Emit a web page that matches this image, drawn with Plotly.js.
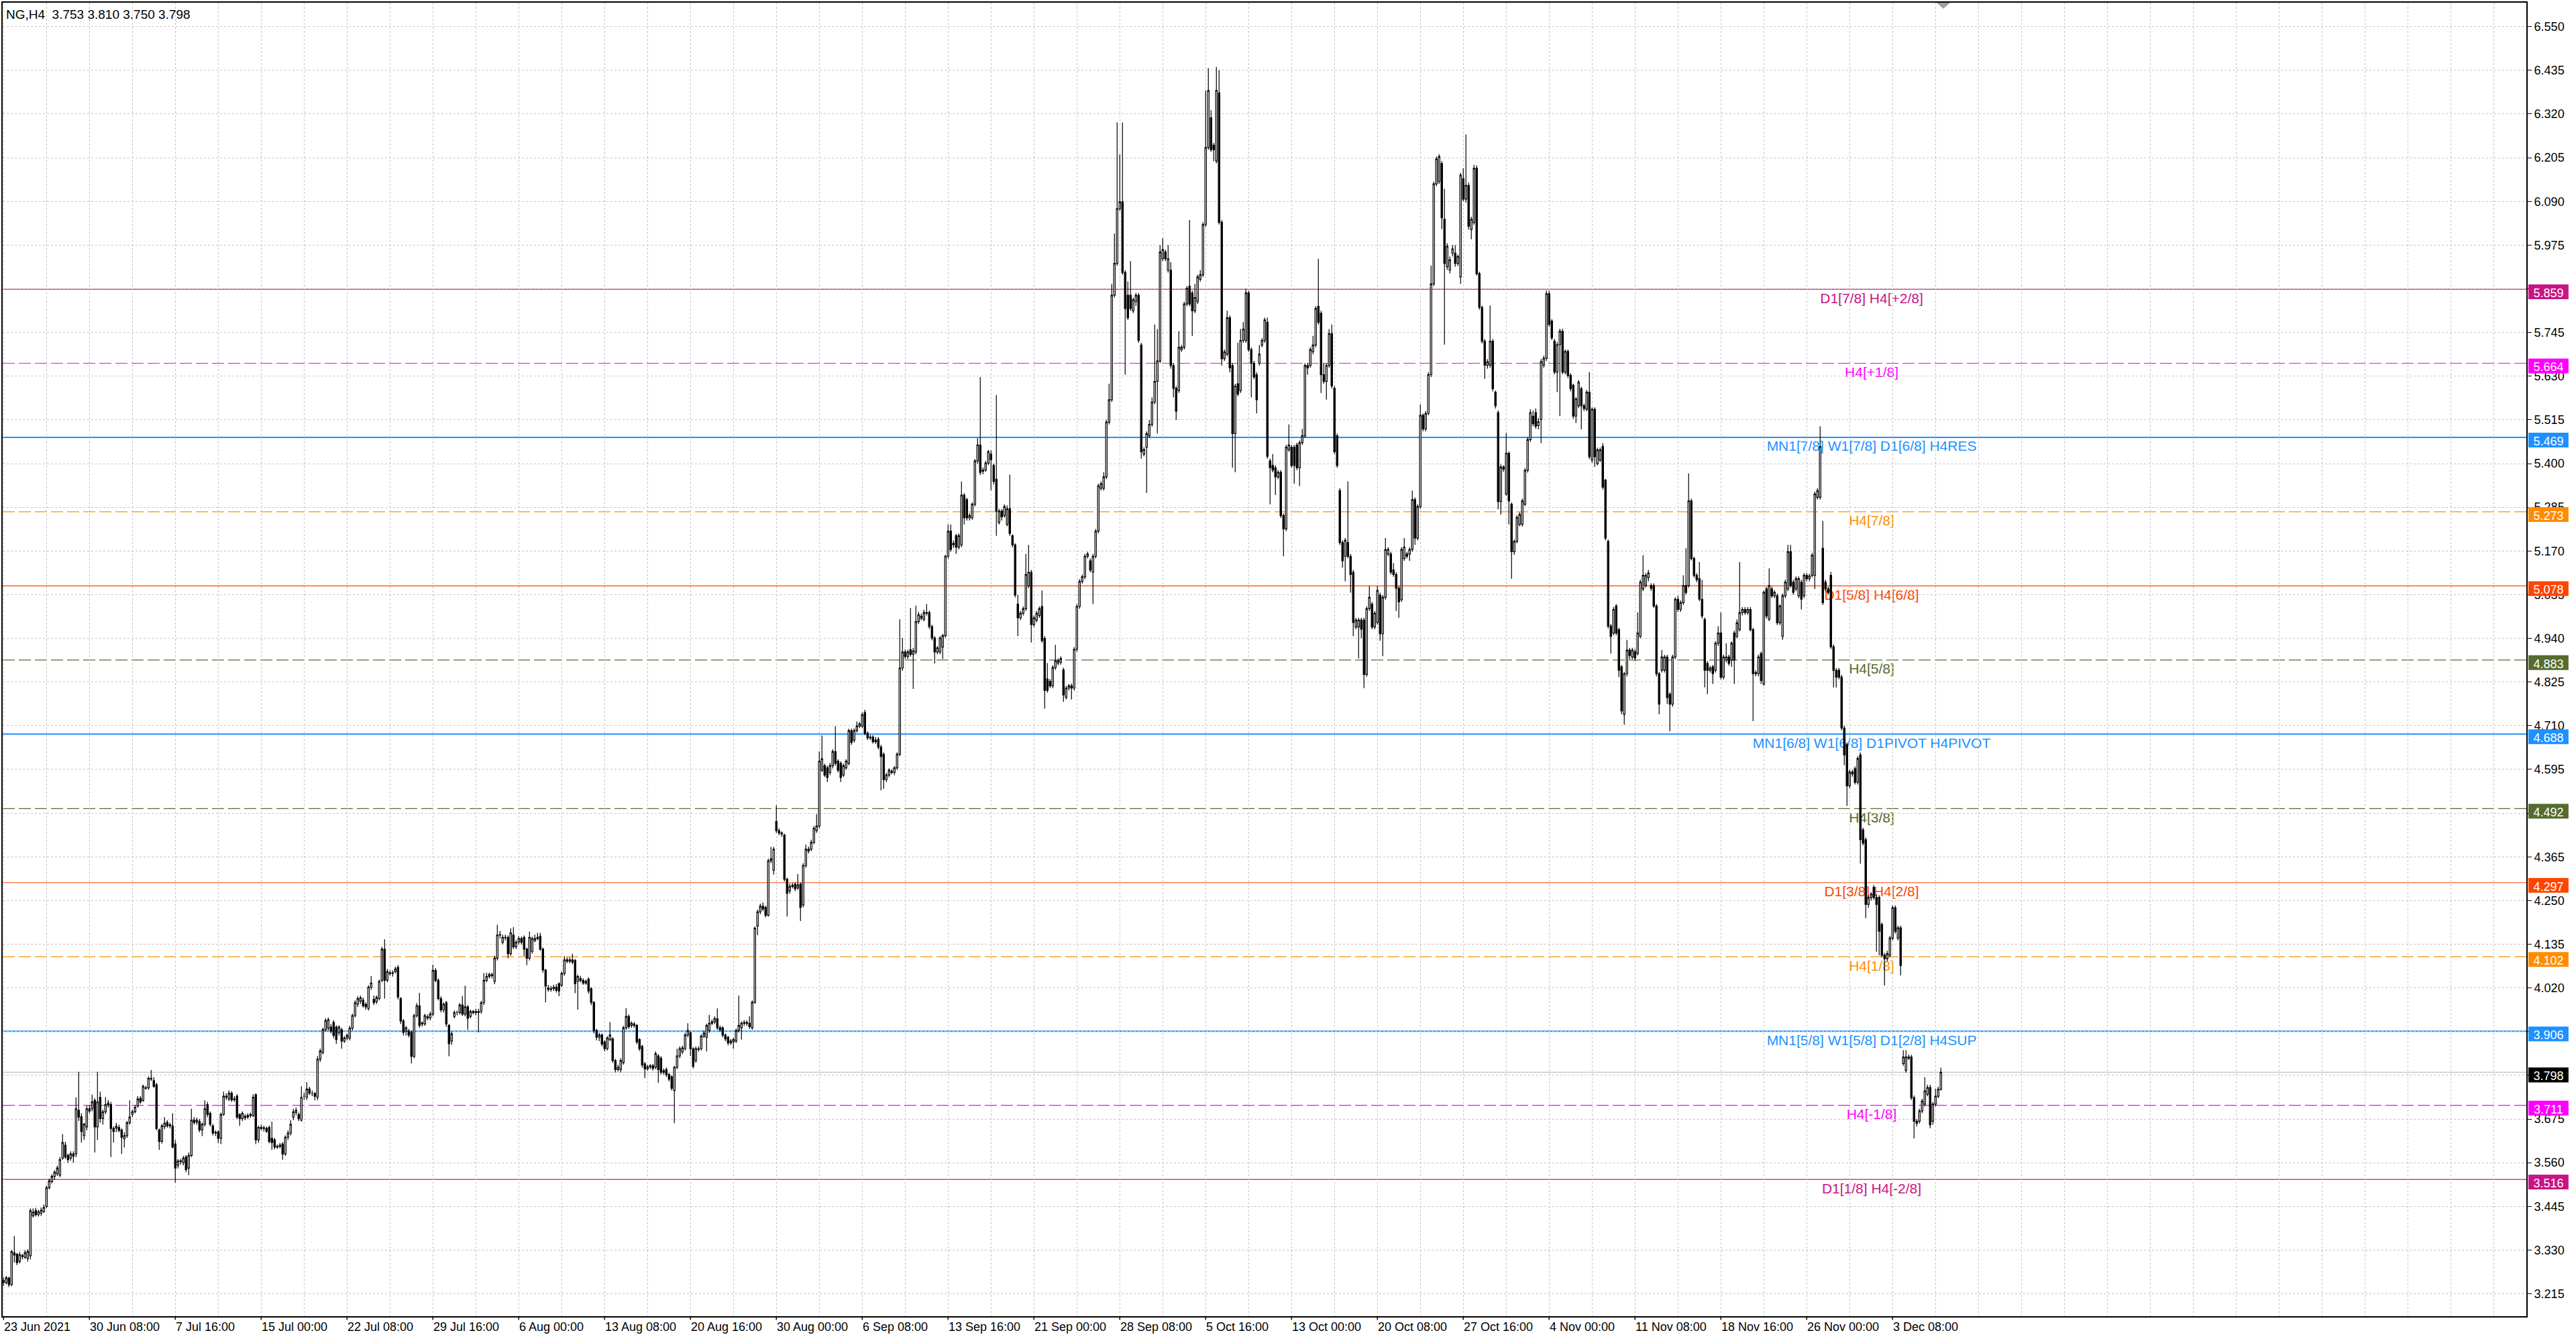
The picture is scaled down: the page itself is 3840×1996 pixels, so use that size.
<!DOCTYPE html>
<html>
<head>
<meta charset="utf-8">
<title>NG,H4</title>
<script src="https://cdn.plot.ly/plotly-3.0.1.min.js"></script>
<style>
html, body { margin: 0; padding: 0; background: #fff; }
#chart { width: 3840px; height: 1996px; }
</style>
</head>
<body>
<div id="chart"></div>
<script>
// NG, H4 bars (23 Jun 2021 -> 8 Dec 2021)
const symbol = 'NG,H4';

const openP = [
3.245,3.244,3.256,3.239,3.323,3.319,3.300,3.316,3.311,3.308,
3.315,3.420,3.434,3.423,3.427,3.431,3.445,3.494,3.510,3.524,
3.531,3.527,3.572,3.606,3.579,3.572,3.583,3.583,3.698,3.681,
3.631,3.654,3.702,3.702,3.724,3.654,3.732,3.676,3.694,3.713,
3.713,3.650,3.651,3.653,3.646,3.623,3.631,3.665,3.687,3.694,
3.709,3.729,3.724,3.757,3.757,3.782,3.776,3.765,3.646,3.616,
3.655,3.666,3.660,3.657,3.609,3.553,3.565,3.560,3.575,3.546,
3.579,3.672,3.667,3.669,3.646,3.661,3.713,3.690,3.657,3.640,
3.641,3.624,3.687,3.735,3.728,3.743,3.726,3.735,3.687,3.676,
3.682,3.680,3.684,3.684,3.739,3.620,3.653,3.650,3.650,3.653,
3.624,3.620,3.601,3.603,3.609,3.583,3.627,3.638,3.680,3.692,
3.687,3.672,3.735,3.732,3.754,3.743,3.742,3.732,3.832,3.850,
3.910,3.914,3.917,3.929,3.917,3.902,3.910,3.880,3.888,3.888,
3.914,3.947,3.977,3.985,3.988,3.977,3.966,4.022,3.990,3.984,
3.992,4.040,4.122,4.040,4.058,4.060,4.063,4.074,3.992,3.933,
3.906,3.906,3.903,3.840,3.947,3.973,3.928,3.925,3.944,3.941,
3.951,4.066,4.040,3.992,3.962,3.981,3.921,3.880,3.945,3.955,
3.955,3.975,3.951,3.970,3.945,3.958,3.955,3.958,3.958,3.981,
4.040,4.050,4.055,4.037,4.098,4.159,4.140,4.153,4.153,4.110,
4.159,4.128,4.141,4.150,4.153,4.122,4.098,4.116,4.145,4.150,
4.156,4.122,4.067,4.020,4.016,4.018,4.022,4.031,4.027,4.058,
4.094,4.090,4.094,4.092,4.037,4.045,4.040,4.033,4.043,4.018,
3.982,3.908,3.890,3.896,3.878,3.860,3.884,3.886,3.829,3.805,
3.805,3.823,3.915,3.945,3.921,3.925,3.921,3.884,3.866,3.820,
3.807,3.812,3.815,3.811,3.841,3.835,3.798,3.805,3.792,3.786,
3.750,3.811,3.841,3.852,3.860,3.896,3.902,3.860,3.829,3.860,
3.860,3.893,3.890,3.908,3.927,3.931,3.939,3.915,3.915,3.896,
3.890,3.875,3.878,3.880,3.908,3.915,3.927,3.929,3.927,3.915,
3.982,4.183,4.220,4.235,4.232,4.211,4.354,4.330,4.458,4.434,
4.428,4.422,4.306,4.275,4.287,4.293,4.283,4.293,4.238,4.342,
4.385,4.385,4.403,4.434,4.446,4.593,4.605,4.599,4.587,4.605,
4.642,4.617,4.611,4.580,4.599,4.611,4.697,4.672,4.697,4.709,
4.709,4.745,4.690,4.678,4.680,4.668,4.674,4.654,4.635,4.568,
4.580,4.590,4.587,4.599,4.635,4.862,4.904,4.892,4.910,4.898,
4.904,4.984,4.993,4.990,5.008,5.008,4.971,4.941,4.904,4.904,
4.917,4.947,5.156,5.222,5.186,5.210,5.180,5.186,5.317,5.305,
5.257,5.257,5.293,5.407,5.449,5.380,5.383,5.401,5.425,5.395,
5.359,5.245,5.275,5.263,5.240,5.281,5.210,5.186,5.030,4.994,
5.006,5.018,5.078,5.114,4.976,4.988,5.000,5.024,4.940,4.833,
4.827,4.815,4.863,4.875,4.877,4.857,4.785,4.809,4.815,4.809,
4.911,5.024,5.090,5.102,5.156,5.144,5.114,5.156,5.222,5.335,
5.335,5.365,5.509,5.568,5.843,5.927,6.071,6.089,5.903,5.843,
5.843,5.802,5.826,5.843,5.712,5.425,5.443,5.473,5.503,5.562,
5.616,5.670,5.939,5.957,5.909,5.909,5.658,5.598,5.592,5.700,
5.706,5.820,5.867,5.849,5.802,5.826,5.885,5.897,6.029,6.232,
6.310,6.238,6.196,6.376,6.035,5.676,5.688,5.784,5.658,5.479,
5.610,5.592,5.724,5.724,5.849,5.700,5.664,5.634,5.664,5.712,
5.724,5.772,5.407,5.395,5.389,5.365,5.377,5.263,5.228,5.437,
5.443,5.443,5.449,5.389,5.455,5.473,5.658,5.658,5.694,5.712,
5.814,5.796,5.634,5.616,5.658,5.742,5.598,5.473,5.329,5.192,
5.156,5.192,5.156,5.114,4.970,4.970,4.988,4.988,4.845,5.018,
5.030,4.970,4.982,5.054,4.952,5.048,5.162,5.162,5.120,5.108,
5.072,5.042,5.150,5.162,5.162,5.174,5.305,5.204,5.287,5.527,
5.491,5.532,5.634,5.873,6.136,6.142,6.190,6.043,5.918,5.909,
5.954,5.954,5.927,5.891,6.150,6.096,6.132,6.016,6.034,6.177,
5.900,5.811,5.722,5.659,5.659,5.722,5.588,5.534,5.300,5.391,
5.320,5.427,5.293,5.168,5.195,5.240,5.240,5.293,5.382,5.463,
5.525,5.534,5.500,5.516,5.659,5.677,5.847,5.775,5.722,5.641,
5.713,5.748,5.641,5.695,5.632,5.606,5.525,5.552,5.597,5.552,
5.543,5.588,5.409,5.543,5.400,5.409,5.445,5.356,5.195,4.972,
4.954,5.025,4.963,4.865,4.740,4.847,4.909,4.891,4.905,4.900,
4.945,5.070,5.079,5.100,5.079,5.079,5.025,4.847,4.856,4.856,
4.891,4.793,4.767,4.891,5.043,5.016,5.034,5.079,5.079,5.302,
5.150,5.106,5.097,5.043,4.990,4.874,4.856,4.865,4.856,4.927,
4.954,4.838,4.883,4.891,4.883,4.954,4.945,4.963,5.008,5.016,
5.008,5.016,4.963,4.847,4.847,4.900,4.820,5.070,4.990,5.070,
5.052,5.052,4.981,4.945,5.052,5.070,5.168,5.088,5.070,5.052,
5.088,5.052,5.106,5.097,5.106,5.106,5.311,5.311,5.177,5.088,
5.070,5.106,4.918,4.856,4.856,4.838,4.704,4.660,4.552,4.588,
4.597,4.561,4.633,4.436,4.410,4.240,4.258,4.285,4.258,4.258,
4.187,4.106,4.097,4.106,4.151,4.231,4.151,4.178,3.821,3.803,
3.838,3.838,3.731,3.669,3.669,3.696,3.714,3.740,3.758,3.669,
3.714,3.735,3.753
];

const highP = [
3.258,3.262,3.260,3.330,3.367,3.322,3.325,3.320,3.330,3.332,
3.440,3.440,3.441,3.436,3.442,3.450,3.500,3.518,3.530,3.540,
3.552,3.575,3.635,3.615,3.584,3.590,3.590,3.732,3.799,3.690,
3.665,3.710,3.712,3.739,3.730,3.799,3.747,3.700,3.732,3.725,
3.720,3.655,3.665,3.660,3.650,3.640,3.670,3.724,3.700,3.712,
3.735,3.735,3.765,3.762,3.787,3.804,3.785,3.770,3.650,3.662,
3.680,3.672,3.665,3.690,3.620,3.570,3.570,3.578,3.580,3.587,
3.702,3.680,3.678,3.675,3.666,3.724,3.720,3.695,3.662,3.645,
3.645,3.692,3.747,3.742,3.750,3.748,3.735,3.740,3.690,3.695,
3.688,3.690,3.692,3.740,3.742,3.658,3.660,3.657,3.655,3.658,
3.668,3.625,3.608,3.612,3.614,3.632,3.645,3.672,3.702,3.705,
3.692,3.761,3.745,3.772,3.760,3.750,3.746,3.840,3.860,3.915,
3.940,3.942,3.925,3.935,3.922,3.922,3.915,3.893,3.900,3.920,
3.952,3.987,3.998,4.000,3.995,3.982,4.027,4.051,4.000,4.000,
4.042,4.128,4.148,4.070,4.066,4.066,4.076,4.080,3.996,3.938,
3.920,3.912,3.908,3.952,3.980,4.007,3.932,3.952,3.950,3.957,
4.081,4.072,4.045,3.998,3.982,3.986,3.925,3.905,3.960,3.960,
3.980,3.999,4.026,3.975,3.963,3.962,3.965,3.965,3.986,4.059,
4.060,4.060,4.060,4.104,4.186,4.170,4.160,4.160,4.158,4.177,
4.180,4.146,4.156,4.155,4.158,4.126,4.168,4.155,4.160,4.165,
4.165,4.126,4.070,4.028,4.025,4.028,4.030,4.035,4.063,4.104,
4.100,4.100,4.110,4.096,4.055,4.052,4.045,4.042,4.048,4.022,
3.985,3.912,3.902,3.900,3.882,3.893,3.930,3.890,3.833,3.818,
3.835,3.920,3.967,3.950,3.932,3.930,3.925,3.888,3.870,3.825,
3.818,3.820,3.820,3.853,3.846,3.840,3.808,3.810,3.796,3.790,
3.815,3.860,3.866,3.868,3.902,3.927,3.906,3.864,3.866,3.866,
3.898,3.908,3.926,3.949,3.937,3.945,3.966,3.921,3.919,3.900,
3.894,3.885,3.889,3.913,4.000,3.932,3.935,3.935,3.945,3.987,
4.182,4.226,4.242,4.245,4.236,4.360,4.391,4.391,4.501,4.440,
4.432,4.426,4.310,4.295,4.296,4.298,4.320,4.298,4.348,4.397,
4.392,4.410,4.446,4.477,4.642,4.684,4.610,4.605,4.612,4.648,
4.709,4.622,4.616,4.610,4.622,4.702,4.702,4.703,4.721,4.720,
4.745,4.752,4.695,4.686,4.685,4.680,4.680,4.660,4.640,4.586,
4.598,4.596,4.604,4.640,4.990,4.941,4.910,4.910,5.020,4.915,
5.026,5.010,5.005,5.015,5.030,5.013,4.976,4.946,4.920,4.946,
4.952,5.160,5.240,5.240,5.198,5.215,5.216,5.353,5.322,5.310,
5.270,5.298,5.412,5.467,5.628,5.390,5.407,5.436,5.435,5.400,
5.580,5.281,5.280,5.293,5.290,5.371,5.214,5.190,5.054,5.012,
5.024,5.162,5.186,5.120,5.000,5.012,5.024,5.066,4.946,4.875,
4.833,4.869,4.923,4.887,4.893,4.863,4.815,4.820,4.821,4.917,
5.030,5.096,5.108,5.162,5.168,5.150,5.162,5.228,5.347,5.353,
5.377,5.515,5.610,5.873,6.005,6.298,6.214,6.298,5.909,5.879,
5.933,5.837,5.849,5.849,5.718,5.443,5.485,5.515,5.574,5.766,
5.754,5.975,5.993,5.963,5.975,5.930,5.664,5.604,5.748,5.712,
5.826,5.867,6.041,5.855,5.873,5.897,5.909,6.035,6.382,6.441,
6.330,6.244,6.444,6.435,6.041,5.700,5.802,5.790,5.664,5.610,
5.718,5.754,5.772,5.860,5.855,5.706,5.670,5.640,5.712,5.730,
5.784,5.784,5.413,5.425,5.395,5.383,5.383,5.269,5.449,5.503,
5.449,5.449,5.455,5.461,5.491,5.664,5.664,5.706,5.736,5.814,
5.939,5.802,5.664,5.664,5.754,5.766,5.604,5.479,5.335,5.198,
5.204,5.353,5.162,5.120,4.994,4.994,4.994,4.994,5.024,5.078,
5.036,5.012,5.078,5.060,5.054,5.204,5.180,5.168,5.138,5.114,
5.078,5.180,5.204,5.168,5.180,5.329,5.311,5.293,5.556,5.532,
5.538,5.640,5.921,6.142,6.208,6.214,6.196,6.123,5.980,5.945,
5.975,5.975,5.950,6.165,6.177,6.266,6.140,6.050,6.186,6.185,
5.905,5.816,5.728,5.675,5.816,5.728,5.592,5.540,5.398,5.395,
5.481,5.432,5.298,5.200,5.264,5.272,5.308,5.388,5.470,5.543,
5.540,5.545,5.520,5.675,5.684,5.855,5.855,5.780,5.728,5.720,
5.755,5.755,5.700,5.700,5.638,5.610,5.575,5.620,5.602,5.558,
5.594,5.641,5.548,5.548,5.442,5.442,5.454,5.360,5.200,4.978,
5.022,5.030,4.968,4.870,4.852,4.936,4.915,4.915,4.912,5.008,
5.094,5.159,5.112,5.120,5.085,5.085,5.030,4.852,4.909,4.897,
4.897,4.798,4.897,5.048,5.052,5.040,5.106,5.177,5.374,5.308,
5.155,5.112,5.141,5.094,4.995,4.880,4.868,4.870,4.932,4.972,
5.008,4.897,4.927,4.897,4.932,4.960,4.990,5.141,5.022,5.022,
5.022,5.022,4.968,4.856,4.897,4.905,5.066,5.075,5.124,5.076,
5.067,5.058,5.030,5.058,5.094,5.186,5.186,5.094,5.103,5.103,
5.094,5.112,5.112,5.110,5.165,5.326,5.335,5.498,5.249,5.094,
5.076,5.115,4.924,4.862,4.862,4.844,4.710,4.666,4.594,4.594,
4.603,4.630,4.640,4.442,4.416,4.264,4.272,4.291,4.267,4.264,
4.192,4.112,4.118,4.157,4.237,4.237,4.184,4.184,3.856,3.856,
3.845,3.844,3.737,3.675,3.702,3.728,3.785,3.765,3.765,3.720,
3.755,3.760,3.810
];

const lowP = [
3.236,3.240,3.233,3.235,3.297,3.290,3.295,3.305,3.307,3.300,
3.305,3.415,3.418,3.418,3.420,3.428,3.440,3.490,3.505,3.515,
3.525,3.522,3.568,3.570,3.560,3.565,3.560,3.575,3.670,3.613,
3.620,3.645,3.690,3.695,3.587,3.620,3.665,3.660,3.688,3.705,
3.575,3.613,3.640,3.640,3.583,3.600,3.625,3.660,3.680,3.690,
3.705,3.715,3.720,3.752,3.752,3.775,3.757,3.645,3.594,3.610,
3.648,3.652,3.650,3.598,3.508,3.545,3.555,3.553,3.535,3.527,
3.575,3.660,3.660,3.640,3.630,3.655,3.680,3.655,3.632,3.630,
3.612,3.609,3.683,3.725,3.722,3.720,3.720,3.675,3.657,3.670,
3.672,3.675,3.678,3.680,3.609,3.612,3.645,3.642,3.638,3.611,
3.594,3.595,3.596,3.598,3.568,3.578,3.620,3.632,3.672,3.685,
3.670,3.668,3.725,3.725,3.738,3.735,3.724,3.724,3.825,3.845,
3.905,3.908,3.900,3.888,3.873,3.895,3.860,3.875,3.882,3.882,
3.908,3.942,3.970,3.978,3.968,3.963,3.960,4.015,3.975,3.978,
3.987,4.035,3.992,4.035,4.052,4.050,4.058,3.990,3.925,3.895,
3.895,3.890,3.821,3.835,3.942,3.915,3.918,3.920,3.935,3.935,
3.945,4.035,3.987,3.956,3.955,3.918,3.840,3.870,3.940,3.948,
3.950,3.946,3.945,3.910,3.940,3.950,3.948,3.903,3.952,3.975,
4.035,4.045,4.045,4.030,4.092,4.150,4.135,4.145,4.098,4.105,
4.122,4.122,4.135,4.134,4.104,4.080,4.092,4.110,4.140,4.145,
4.118,4.060,3.982,4.010,4.010,4.012,4.008,3.998,4.022,4.052,
4.085,4.085,4.082,4.006,3.963,4.035,4.028,4.028,4.005,3.975,
3.900,3.882,3.880,3.866,3.853,3.855,3.880,3.823,3.798,3.800,
3.798,3.818,3.910,3.912,3.915,3.915,3.872,3.854,3.810,3.783,
3.802,3.806,3.802,3.806,3.770,3.792,3.792,3.786,3.774,3.750,
3.664,3.806,3.835,3.846,3.855,3.890,3.841,3.808,3.823,3.852,
3.855,3.888,3.853,3.902,3.922,3.925,3.910,3.904,3.890,3.880,
3.869,3.870,3.860,3.875,3.903,3.884,3.920,3.920,3.912,3.910,
3.978,4.159,4.214,4.222,4.205,4.208,4.348,4.318,4.428,4.422,
4.418,4.300,4.208,4.268,4.282,4.275,4.278,4.196,4.232,4.336,
4.374,4.380,4.398,4.428,4.440,4.588,4.575,4.562,4.580,4.598,
4.605,4.587,4.562,4.575,4.594,4.606,4.660,4.666,4.692,4.704,
4.704,4.685,4.672,4.672,4.663,4.662,4.648,4.540,4.544,4.562,
4.574,4.582,4.580,4.594,4.630,4.855,4.886,4.886,4.892,4.807,
4.898,4.978,4.988,4.985,5.000,4.965,4.935,4.874,4.898,4.898,
4.886,4.942,5.150,5.168,5.178,5.162,5.174,5.180,5.240,5.250,
5.250,5.252,5.287,5.400,5.370,5.372,5.378,5.396,5.330,5.345,
5.210,5.240,5.250,5.258,5.235,5.210,5.180,5.048,4.946,4.988,
5.000,5.012,5.072,4.929,4.970,4.982,4.994,4.928,4.755,4.797,
4.809,4.809,4.857,4.869,4.871,4.773,4.779,4.803,4.779,4.803,
4.905,5.018,5.084,5.096,5.150,5.114,5.030,5.150,5.216,5.329,
5.329,5.359,5.503,5.562,5.837,5.921,6.065,5.897,5.634,5.778,
5.802,5.796,5.815,5.718,5.413,5.419,5.323,5.467,5.497,5.556,
5.479,5.664,5.933,5.933,5.903,5.650,5.574,5.515,5.586,5.694,
5.700,5.814,5.814,5.736,5.796,5.820,5.879,5.891,6.023,6.226,
6.220,6.196,6.190,6.029,5.658,5.670,5.682,5.640,5.389,5.377,
5.577,5.586,5.718,5.718,5.694,5.574,5.622,5.532,5.658,5.706,
5.718,5.413,5.293,5.377,5.317,5.359,5.257,5.156,5.222,5.431,
5.389,5.347,5.383,5.341,5.449,5.467,5.634,5.652,5.688,5.706,
5.766,5.586,5.610,5.568,5.652,5.598,5.425,5.389,5.186,5.126,
5.090,5.150,5.060,4.946,4.964,4.887,4.940,4.809,4.839,5.012,
4.964,4.964,4.976,4.934,4.893,5.042,5.156,5.108,5.102,5.012,
4.994,5.036,5.144,5.150,5.144,5.168,5.186,5.198,5.281,5.485,
5.485,5.527,5.628,5.867,6.130,6.136,6.017,5.713,5.910,5.900,
5.945,5.918,5.920,5.873,6.090,6.087,6.016,5.990,6.028,5.895,
5.805,5.716,5.623,5.650,5.652,5.590,5.545,5.280,5.266,5.378,
5.315,5.240,5.097,5.160,5.190,5.235,5.234,5.288,5.376,5.457,
5.498,5.492,5.490,5.454,5.652,5.670,5.760,5.725,5.635,5.588,
5.525,5.635,5.635,5.625,5.590,5.518,5.507,5.546,5.490,5.538,
5.538,5.412,5.402,5.391,5.395,5.404,5.332,5.198,4.966,4.900,
4.948,4.948,4.838,4.740,4.713,4.840,4.885,4.885,4.880,4.895,
4.940,5.064,5.074,5.090,5.065,5.020,4.840,4.740,4.850,4.850,
4.767,4.695,4.760,4.885,5.010,5.010,5.028,5.055,5.074,5.145,
5.100,5.088,5.038,4.992,4.811,4.793,4.850,4.820,4.850,4.920,
4.832,4.832,4.877,4.868,4.865,4.820,4.940,4.958,5.000,5.002,
5.002,4.958,4.722,4.840,4.840,4.820,4.815,4.992,4.985,5.046,
5.046,4.975,4.975,4.936,5.046,5.064,5.074,5.055,5.064,5.046,
5.016,5.046,5.090,5.090,5.100,5.070,5.305,5.305,5.028,5.064,
5.055,4.912,4.811,4.811,4.832,4.698,4.606,4.499,4.546,4.576,
4.555,4.555,4.347,4.395,4.204,4.231,4.250,4.252,4.115,4.106,
4.100,4.026,4.090,4.100,4.145,4.163,4.145,4.053,3.815,3.797,
3.830,3.725,3.624,3.655,3.663,3.690,3.708,3.735,3.651,3.660,
3.708,3.730,3.750
];

const closeP = [
3.250,3.257,3.239,3.326,3.317,3.297,3.318,3.313,3.323,3.326,
3.434,3.430,3.423,3.431,3.435,3.442,3.494,3.512,3.524,3.535,
3.546,3.568,3.613,3.575,3.568,3.583,3.577,3.702,3.680,3.642,
3.661,3.702,3.696,3.720,3.654,3.720,3.676,3.694,3.713,3.717,
3.650,3.642,3.656,3.645,3.627,3.631,3.665,3.680,3.694,3.706,
3.728,3.720,3.761,3.756,3.782,3.780,3.761,3.650,3.616,3.657,
3.664,3.657,3.657,3.601,3.546,3.564,3.563,3.572,3.542,3.579,
3.672,3.666,3.672,3.646,3.661,3.702,3.687,3.661,3.638,3.638,
3.624,3.687,3.735,3.732,3.743,3.725,3.728,3.680,3.676,3.690,
3.679,3.684,3.687,3.732,3.620,3.653,3.650,3.652,3.643,3.616,
3.613,3.601,3.603,3.606,3.583,3.627,3.638,3.661,3.694,3.698,
3.676,3.732,3.735,3.754,3.743,3.743,3.735,3.832,3.854,3.910,
3.934,3.936,3.906,3.895,3.884,3.917,3.880,3.888,3.895,3.914,
3.947,3.981,3.992,3.994,3.973,3.970,4.022,4.033,3.981,3.995,
4.037,4.122,4.040,4.063,4.060,4.058,4.070,3.996,3.933,3.903,
3.915,3.896,3.840,3.947,3.973,3.921,3.925,3.947,3.941,3.951,
4.066,4.040,3.992,3.962,3.977,3.925,3.873,3.899,3.955,3.955,
3.975,3.951,3.970,3.940,3.958,3.955,3.958,3.955,3.981,4.040,
4.050,4.055,4.052,4.098,4.159,4.160,4.153,4.152,4.110,4.165,
4.128,4.140,4.150,4.140,4.122,4.098,4.153,4.150,4.150,4.153,
4.122,4.067,4.025,4.016,4.018,4.022,4.014,4.012,4.058,4.094,
4.090,4.094,4.088,4.031,4.050,4.040,4.033,4.037,4.012,3.982,
3.908,3.890,3.896,3.872,3.860,3.888,3.896,3.829,3.805,3.811,
3.829,3.915,3.945,3.918,3.927,3.921,3.878,3.860,3.817,3.807,
3.812,3.815,3.808,3.847,3.805,3.798,3.802,3.792,3.780,3.756,
3.811,3.841,3.860,3.862,3.896,3.908,3.860,3.814,3.860,3.858,
3.893,3.901,3.921,3.927,3.931,3.939,3.915,3.910,3.896,3.886,
3.875,3.880,3.884,3.908,3.921,3.927,3.929,3.927,3.918,3.982,
4.177,4.220,4.235,4.228,4.211,4.354,4.360,4.385,4.434,4.428,
4.425,4.306,4.269,4.287,4.290,4.281,4.291,4.232,4.342,4.385,
4.380,4.403,4.440,4.446,4.617,4.623,4.580,4.574,4.605,4.642,
4.611,4.593,4.574,4.605,4.617,4.697,4.666,4.697,4.709,4.715,
4.739,4.690,4.678,4.680,4.668,4.672,4.654,4.629,4.568,4.580,
4.593,4.587,4.599,4.635,4.862,4.904,4.892,4.904,4.898,4.907,
4.984,5.002,4.998,5.008,5.006,4.971,4.941,4.904,4.915,4.941,
4.947,5.156,5.222,5.174,5.190,5.180,5.210,5.317,5.257,5.257,
5.263,5.293,5.407,5.449,5.377,5.383,5.401,5.431,5.410,5.353,
5.275,5.275,5.260,5.287,5.281,5.216,5.186,5.054,4.994,5.006,
5.018,5.108,5.114,4.976,4.994,5.006,5.018,4.934,4.803,4.803,
4.815,4.863,4.881,4.881,4.887,4.791,4.809,4.815,4.809,4.911,
5.024,5.090,5.102,5.156,5.162,5.120,5.156,5.222,5.341,5.347,
5.365,5.509,5.568,5.843,5.927,6.071,6.089,5.903,5.808,5.784,
5.808,5.831,5.843,5.724,5.431,5.437,5.479,5.503,5.562,5.616,
5.670,5.957,5.963,5.939,5.939,5.658,5.598,5.538,5.706,5.706,
5.820,5.861,5.820,5.802,5.837,5.891,5.897,6.029,6.232,6.382,
6.226,6.226,6.382,6.035,5.676,5.694,5.784,5.652,5.479,5.604,
5.583,5.724,5.754,5.849,5.700,5.664,5.628,5.568,5.688,5.724,
5.778,5.419,5.389,5.383,5.365,5.377,5.263,5.228,5.443,5.449,
5.395,5.395,5.389,5.455,5.473,5.658,5.652,5.700,5.712,5.808,
5.772,5.634,5.616,5.658,5.742,5.604,5.431,5.395,5.192,5.144,
5.198,5.156,5.108,4.982,4.988,4.988,4.964,4.845,5.018,5.048,
4.970,5.006,5.066,4.952,5.048,5.174,5.174,5.114,5.108,5.072,
5.036,5.174,5.180,5.156,5.174,5.305,5.204,5.287,5.527,5.491,
5.532,5.634,5.873,6.136,6.202,6.208,6.047,5.927,5.972,5.936,
5.965,5.927,5.945,6.159,6.096,6.132,6.025,6.043,6.177,5.900,
5.811,5.722,5.659,5.668,5.722,5.597,5.552,5.300,5.391,5.385,
5.427,5.302,5.168,5.195,5.258,5.266,5.302,5.382,5.463,5.534,
5.505,5.498,5.510,5.668,5.677,5.847,5.766,5.731,5.641,5.713,
5.748,5.641,5.695,5.632,5.597,5.525,5.570,5.614,5.552,5.545,
5.588,5.418,5.543,5.418,5.436,5.436,5.338,5.204,4.972,4.945,
5.016,4.954,4.856,4.749,4.847,4.909,4.895,4.909,4.888,4.954,
5.088,5.106,5.106,5.112,5.072,5.025,4.847,4.767,4.891,4.891,
4.784,4.767,4.891,5.043,5.016,5.034,5.079,5.061,5.302,5.150,
5.106,5.095,5.043,4.999,4.856,4.856,4.862,4.847,4.927,4.954,
4.838,4.891,4.891,4.874,4.927,4.883,4.981,5.008,5.016,5.008,
5.016,4.963,4.847,4.850,4.891,4.829,5.061,4.999,5.079,5.052,
5.061,4.981,5.025,5.052,5.088,5.168,5.079,5.061,5.097,5.097,
5.043,5.106,5.097,5.104,5.159,5.320,5.329,5.445,5.034,5.070,
5.061,4.918,4.856,4.838,4.838,4.704,4.633,4.552,4.588,4.583,
4.561,4.624,4.410,4.401,4.240,4.258,4.267,4.258,4.240,4.169,
4.106,4.097,4.110,4.151,4.231,4.169,4.178,4.079,3.838,3.838,
3.835,3.731,3.669,3.664,3.696,3.722,3.749,3.758,3.660,3.714,
3.735,3.753,3.798
];

// time scale labels, one every 32 H4 bars starting at the first bar
const timeLabels = [
  '23 Jun 2021', '30 Jun 08:00', '7 Jul 16:00', '15 Jul 00:00', '22 Jul 08:00',
  '29 Jul 16:00', '6 Aug 00:00', '13 Aug 08:00', '20 Aug 16:00', '30 Aug 00:00',
  '6 Sep 08:00', '13 Sep 16:00', '21 Sep 00:00', '28 Sep 08:00', '5 Oct 16:00',
  '13 Oct 00:00', '20 Oct 08:00', '27 Oct 16:00', '4 Nov 00:00', '11 Nov 08:00',
  '18 Nov 16:00', '26 Nov 00:00', '3 Dec 08:00'
];
const barsPerLabel = 32;

// Murrey math levels drawn on the chart
const levelPrices = [5.859, 5.664, 5.469, 5.273, 5.078, 4.883, 4.688, 4.492, 4.297, 4.102, 3.906, 3.711, 3.516];
const levelNames = [
  'D1[7/8] H4[+2/8]', 'H4[+1/8]', 'MN1[7/8] W1[7/8] D1[6/8] H4RES', 'H4[7/8]',
  'D1[5/8] H4[6/8]', 'H4[5/8]', 'MN1[6/8] W1[6/8] D1PIVOT H4PIVOT', 'H4[3/8]',
  'D1[3/8] H4[2/8]', 'H4[1/8]', 'MN1[5/8] W1[5/8] D1[2/8] H4SUP', 'H4[-1/8]',
  'D1[1/8] H4[-2/8]'
];

// --- styles ---
const FONT = 'Liberation Sans, Arial, sans-serif';
const levelColors = ['#C71585', '#FF00FF', '#1E90FF', '#FF8C00', '#FF4500', '#556B2F', '#1E90FF',
                     '#556B2F', '#FF4500', '#FF8C00', '#1E90FF', '#FF00FF', '#C71585'];
const levelDashed = [false, true, false, true, false, true, false, true, false, true, false, true, false];
const GRID = '#c4c4c4';

const xRange = [-0.33, 940.2];
const yRange = [3.156, 6.613];
const labelX = 696.2;          // bar position where the level names are centred
const boxX = [1.0008, 1.0167]; // price tags just right of the plot

const nBars = closeP.length;
const barIdx = closeP.map((_, i) => i);
const lastClose = closeP[nBars - 1];

function priceTag(p, color) {
    return {
        type: 'rect', xref: 'paper', yref: 'y',
        x0: boxX[0], x1: boxX[1], y0: p - 0.0265, y1: p + 0.0124,
        fillcolor: color, line: { width: 0 }, layer: 'above',
        label: { text: p.toFixed(3), font: { family: FONT, size: 18, color: '#fff' },
                 textposition: 'middle center', padding: 0 }
    };
}

const shapes = [];
levelPrices.forEach((p, i) => {
    const c = levelColors[i];
    const wide = c === '#1E90FF';
    shapes.push({
        type: 'line', xref: 'paper', yref: 'y', x0: 0, x1: 1, y0: p, y1: p, layer: 'below',
        line: { color: c, width: wide ? 2 : 1.2, dash: levelDashed[i] ? '18px,6px' : 'solid' }
    });
    shapes.push({
        type: 'rect', xref: 'x', yref: 'y', x0: labelX - 60, x1: labelX + 60, y0: p - 0.0388, y1: p,
        layer: 'below', fillcolor: 'rgba(0,0,0,0)', line: { width: 0, color: 'rgba(0,0,0,0)' },
        label: { text: levelNames[i], font: { family: FONT, size: 21, color: c },
                 textposition: 'middle center', padding: 0 }
    });
    shapes.push(priceTag(p, c));
});
// bid line + tag
shapes.push({
    type: 'line', xref: 'paper', yref: 'y', x0: 0, x1: 1, y0: lastClose, y1: lastClose, layer: 'below',
    line: { color: '#c0c0c0', width: 1.2 }
});
shapes.push(priceTag(lastClose, '#000'));

// time scale tick marks
timeLabels.forEach((_, i) => {
    shapes.push({
        type: 'line', xref: 'x', yref: 'paper', x0: i * barsPerLabel, x1: i * barsPerLabel,
        y0: 0, y1: -0.0028, line: { color: '#000', width: 1.5 }, layer: 'above'
    });
});
// chart shift marker
shapes.push({
    type: 'path', xref: 'paper', yref: 'paper',
    path: 'M 0.7663 1 L 0.7717 1 L 0.7690 0.9954 Z',
    fillcolor: '#a0a0a0', line: { width: 0 }, layer: 'above'
});

const annotations = timeLabels.map((t, i) => ({
    x: i * barsPerLabel, xref: 'x', y: 0, yref: 'paper',
    xanchor: 'left', yanchor: 'top', yshift: -4, xshift: -1,
    text: t, showarrow: false, font: { family: FONT, size: 18, color: '#000' }
}));
annotations.push({
    x: 0, xref: 'paper', y: 1, yref: 'paper', xanchor: 'left', yanchor: 'top',
    xshift: 3, yshift: -5, showarrow: false,
    text: symbol + '&nbsp;&nbsp;' + [openP[nBars - 1], highP[nBars - 1], lowP[nBars - 1], lastClose]
        .map(v => v.toFixed(3)).join(' '),
    font: { family: FONT, size: 19, color: '#000' }
});

const trace = {
    type: 'candlestick',
    x: barIdx, open: openP, high: highP, low: lowP, close: closeP,
    increasing: { line: { color: '#000', width: 1.2 }, fillcolor: '#fff' },
    decreasing: { line: { color: '#000', width: 1.2 }, fillcolor: '#000' },
    whiskerwidth: 0, hoverinfo: 'skip', showlegend: false
};

const layout = {
    width: 3840, height: 1996,
    margin: { l: 4, r: 74, t: 4, b: 34 },
    paper_bgcolor: '#fff', plot_bgcolor: '#fff',
    font: { family: FONT, color: '#000' },
    showlegend: false, boxgap: 0.2,
    xaxis: {
        range: xRange, tickmode: 'linear', tick0: 0, dtick: 16,
        showticklabels: false, ticks: '',
        showgrid: true, gridcolor: GRID, griddash: '3px,3px', gridwidth: 1,
        zeroline: false, showline: true, mirror: true, linecolor: '#000', linewidth: 2,
        rangeslider: { visible: false }, fixedrange: true
    },
    yaxis: {
        side: 'right', range: yRange, tickmode: 'linear', tick0: 3.215, dtick: 0.115,
        tickformat: '.3f', ticks: 'outside', ticklen: 6, tickcolor: '#000',
        tickfont: { family: FONT, size: 18, color: '#000' },
        showgrid: true, gridcolor: GRID, griddash: '3px,3px', gridwidth: 1,
        zeroline: false, showline: true, mirror: true, linecolor: '#000', linewidth: 2,
        fixedrange: true
    },
    shapes: shapes,
    annotations: annotations
};

Plotly.newPlot('chart', [trace], layout, { staticPlot: true });
</script>
</body>
</html>
